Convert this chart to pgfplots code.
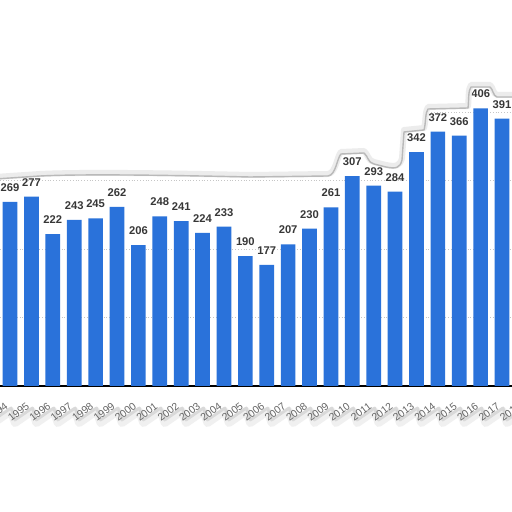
\documentclass[border=0pt]{standalone}
\usepackage{pgfplots}
\pgfplotsset{compat=1.18}
\usepackage{fontspec}
\setmainfont{Liberation Sans}
\definecolor{barblue}{RGB}{42,114,218}
\definecolor{lbl}{RGB}{55,55,55}
\definecolor{tick}{RGB}{102,102,102}

\begin{document}
\begin{tikzpicture}
\clip (0,0) rectangle (256pt,256pt);
\fill[white] (0,0) rectangle (256pt,256pt);

% bottom torn edge (shadow under the year labels)
\begin{scope}[x=0.5pt, y=-0.5pt, shift={(0,256pt)}]
  \draw[gray!12, line width=4pt, line join=round]
    (-10,423) \foreach \i in {0,...,24} { -- ({10+21.39*\i-16.4},423) -- ({10+21.39*\i+1},411) };
  \draw[gray!30, line width=1.4pt, line join=round]
    (-10,420) \foreach \i in {0,...,24} { -- ({10+21.39*\i-16.4},420) -- ({10+21.39*\i+1},408) };
\end{scope}

\begin{axis}[
    at={(0pt,63pt)}, anchor=south west,
    scale only axis,
    width=267.375pt, height=153.9pt,
    xmin=1993.53, xmax=2018.53,
    ymin=0, ymax=450,
    clip=false,
    axis x line=bottom, axis y line=left,
    x axis line style={-, black, line width=0.7pt},
    y axis line style={draw=none},
    xtick={1993,...,2018},
    xtick style={draw=none},
    ytick={100,200,300,400},
    yticklabels={},
    ytick style={draw=none},
    ymajorgrids,
    grid style={densely dotted, gray!45, line width=0.4pt},
    xticklabel style={font=\fontsize{5.2}{5.2}\selectfont, text=tick,
        xshift=1pt, yshift=-3pt, rotate=37, anchor=east},
    /pgf/number format/1000 sep={},
    /pgf/number format/assume math mode=true,
    xticklabel={\pgfmathprintnumber[1000 sep={}]{\tick}},
    ybar, bar width=0.687,
    nodes near coords,
    every node near coord/.append style={font=\bfseries\fontsize{5.6}{5.6}\selectfont,
        text=lbl, inner sep=0pt, yshift=5pt, anchor=south},
]
\addplot[fill=barblue, draw=none] coordinates {
  (1994,269) (1995,277) (1996,222) (1997,243) (1998,245) (1999,262)
  (2000,206) (2001,248) (2002,241) (2003,224) (2004,233) (2005,190)
  (2006,177) (2007,207) (2008,230) (2009,261) (2010,307) (2011,293)
  (2012,284) (2013,342) (2014,372) (2015,366) (2016,406) (2017,391)
};
\end{axis}

% top torn edge
\begin{scope}[x=0.5pt, y=-0.5pt, shift={(0,256pt)}]
  \def\tear{(-5,179) -- (40,176) .. controls (80,174) and (160,175) .. (250,177)
    -- (328,176) .. controls (336,175) and (337,158) .. (341,154) -- (364,153)
    .. controls (368,156) and (368,163) .. (374,164) -- (386,167)
    .. controls (396,169) and (400,168) .. (402,160) -- (404,132) -- (424,130)
    .. controls (426,123) and (425,113) .. (428,109) -- (468,108)
    .. controls (469,100) and (468,91) .. (471,87) -- (490,87)
    .. controls (493,89) and (493,96) .. (497,97) -- (520,97)}
  \fill[white] \tear -- (520,-10) -- (-5,-10) -- cycle;
  \draw[gray!15, line width=3pt, line join=round, yshift=1pt] \tear;
  \draw[gray!55, line width=0.7pt, line join=round] \tear;
\end{scope}
\end{tikzpicture}
\end{document}
